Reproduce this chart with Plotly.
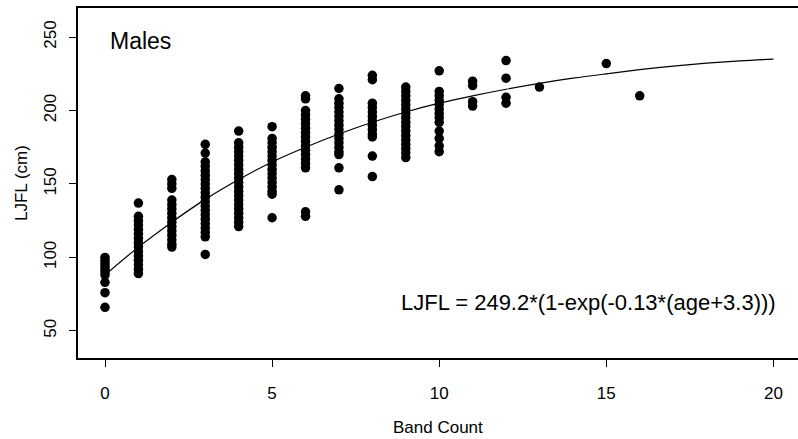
import plotly.graph_objects as go

band_0 = [100, 98, 96, 94, 92, 90, 88, 83, 76, 66]
band_1 = [137, 128, 125, 122, 119, 116, 113, 110, 107, 104, 101, 98, 95, 92, 89]
band_2 = [153, 150, 147, 139, 136, 133, 130, 127, 124, 121, 118, 115, 112, 109, 107]
band_3 = [177, 171, 165, 162, 159, 156, 153, 150, 147, 144, 141, 138, 135, 132, 129, 126, 123, 120, 117, 114, 102]
band_4 = [186, 178, 175, 172, 169, 166, 163, 160, 157, 154, 151, 148, 145, 142, 139, 136, 133, 130, 127, 124, 121]
band_5 = [189, 181, 178, 175, 172, 169, 166, 163, 160, 157, 154, 151, 148, 145, 143, 127]
band_6 = [210, 208, 200, 197, 194, 191, 188, 185, 182, 179, 176, 173, 170, 167, 164, 161, 131, 128]
band_7 = [215, 208, 205, 202, 199, 196, 193, 190, 187, 184, 181, 178, 175, 172, 170, 161, 146]
band_8 = [224, 221, 205, 202, 199, 196, 193, 190, 187, 184, 182, 169, 155]
band_9 = [216, 213, 210, 207, 204, 201, 198, 195, 192, 189, 186, 183, 180, 177, 174, 171, 168]
band_10 = [227, 213, 210, 207, 204, 201, 198, 195, 192, 186, 181, 176, 172]
band_11 = [220, 217, 206, 203]
band_12 = [234, 222, 209, 205]
band_13 = [216]
band_15 = [232]
band_16 = [210]

bands = {0: band_0, 1: band_1, 2: band_2, 3: band_3, 4: band_4, 5: band_5,
         6: band_6, 7: band_7, 8: band_8, 9: band_9, 10: band_10, 11: band_11,
         12: band_12, 13: band_13, 15: band_15, 16: band_16}

# Fitted growth curve
curve_age = list(range(0, 21))
curve_len = [88, 107, 124, 139.5, 153, 165, 175, 184, 192, 199, 205, 210,
             214.5, 218.5, 222, 225, 227.8, 230.2, 232.2, 233.8, 235]

x_ticks = [0, 5, 10, 15, 20]
y_ticks = [50, 100, 150, 200, 250]

xs, ys = [], []
for b, vals in bands.items():
    xs += [b] * len(vals)
    ys += vals

FONT = "Liberation Sans, Arial, Helvetica, sans-serif"

fig = go.Figure()
fig.add_trace(go.Scatter(x=xs, y=ys, mode="markers",
                         marker=dict(color="black", size=9.5, line=dict(width=0)),
                         showlegend=False, hoverinfo="skip"))
fig.add_trace(go.Scatter(x=curve_age, y=curve_len, mode="lines",
                         line=dict(color="black", width=1.2, shape="spline"),
                         showlegend=False, hoverinfo="skip"))

fig.update_layout(
    width=798, height=439,
    margin=dict(l=78, r=0, t=8, b=81),
    paper_bgcolor="white", plot_bgcolor="white",
    font=dict(family=FONT, color="black", size=17),
    xaxis=dict(range=[-0.808, 20.736], tickvals=x_ticks, ticks="outside",
               ticklen=7, tickwidth=1, tickcolor="black",
               showline=True, linecolor="black", linewidth=1.5, mirror=True,
               showgrid=False, zeroline=False, ticklabelstandoff=12,
               tickfont=dict(size=17)),
    yaxis=dict(range=[31.5, 269.8], tickvals=y_ticks, ticks="outside",
               ticklen=7, tickwidth=1, tickcolor="black", tickangle=-90,
               showline=True, linecolor="black", linewidth=1.5, mirror=False,
               showgrid=False, zeroline=False, ticklabelstandoff=6,
               tickfont=dict(size=17)),
    annotations=[
        dict(text="Band Count", xref="paper", yref="paper", x=0.5, y=0,
             xanchor="center", yanchor="middle", yshift=-69, showarrow=False,
             font=dict(size=17)),
        dict(text="LJFL (cm)", xref="paper", yref="paper", x=0, y=0.5,
             xanchor="center", yanchor="middle", xshift=-57, textangle=-90,
             showarrow=False, font=dict(size=17)),
        dict(text="Males", xref="x", yref="y", x=0.09, y=247,
             xanchor="left", yanchor="middle", showarrow=False,
             font=dict(size=23)),
        dict(text="LJFL = 249.2*(1-exp(-0.13*(age+3.3)))", xref="x", yref="y",
             x=20.14, y=69, xanchor="right", yanchor="middle", showarrow=False,
             font=dict(size=22)),
    ],
)

fig.write_html("out.html")
